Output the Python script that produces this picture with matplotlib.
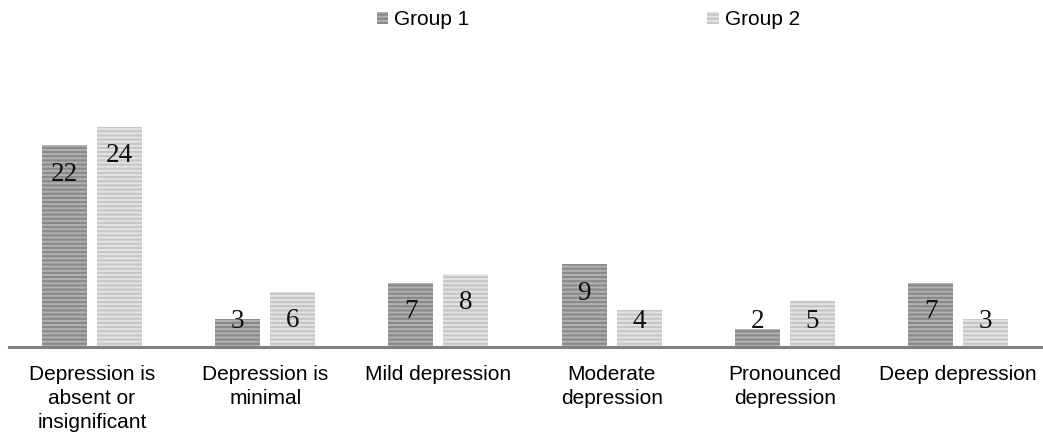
import matplotlib
matplotlib.use("Agg")
import matplotlib.pyplot as plt
import numpy as np

categories = ["Depression is\nabsent or\ninsignificant", "Depression is\nminimal",
              "Mild depression", "Moderate\ndepression", "Pronounced\ndepression",
              "Deep depression"]
group1 = [22, 3, 7, 9, 2, 7]
group2 = [24, 6, 8, 4, 5, 3]
series_names = ["Group 1", "Group 2"]

plt.rcParams['hatch.linewidth'] = 1.6
fig = plt.figure(figsize=(10.43, 4.34), dpi=100)
left = 9 / 1043
ax = fig.add_axes([left, 0.2005, 1.0 - left, 0.634])

x = np.arange(len(categories))
w = 0.26
off = 0.159
b1 = ax.bar(x - off, group1, w, color="#b2b2b2", edgecolor="#8a8a8a", hatch="----",
            linewidth=0, label=series_names[0])
b2 = ax.bar(x + off, group2, w, color="#e4e4e4", edgecolor="#c6c6c6", hatch="----",
            linewidth=0, label=series_names[1])

ax.set_xlim(-0.479, 5.49)
ax.set_ylim(0, 30)
ax.set_yticks([])
ax.set_xticks(x)
ax.set_xticklabels(categories, fontsize=15, family="Liberation Sans", linespacing=1.34)
ax.tick_params(axis='x', length=0, pad=13)
for s in ["top", "right", "left"]:
    ax.spines[s].set_visible(False)
ax.spines["bottom"].set_color("#808080")
ax.spines["bottom"].set_linewidth(2.2)

# px per data unit
ppu = 0.634 * 434 / 30.0
for bars, vals in ((b1, group1), (b2, group2)):
    for r, v in zip(bars, vals):
        yc = max(v - 29 / ppu, 25 / ppu)
        ax.text(r.get_x() + r.get_width() / 2, yc, str(v), ha="center", va="center",
                fontsize=19.5, family="Liberation Serif", color="#111111")

fig.legend(handles=[b1, b2], labels=series_names, loc="upper center",
           bbox_to_anchor=(0.564, 1.02), ncol=2, frameon=False,
           prop={"family": "Liberation Sans", "size": 15},
           handlelength=0.55, handleheight=0.5, handletextpad=0.3, columnspacing=11.4)

fig.savefig("out.png", dpi=100)
